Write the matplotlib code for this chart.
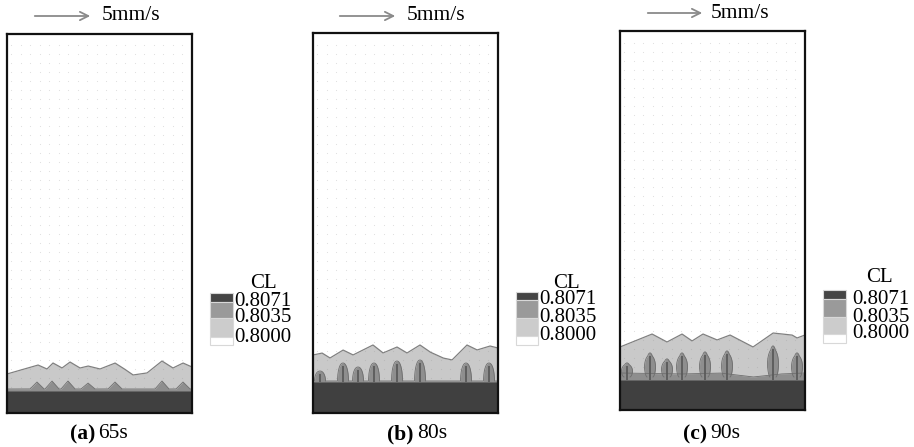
import numpy as np
import matplotlib
matplotlib.use("Agg")
import matplotlib.pyplot as plt
from matplotlib.patches import Rectangle, FancyArrowPatch

W, H = 914, 447
SERIF = ["Liberation Serif", "DejaVu Serif"]

# ---- data (domain units: x across the cell, y height above the bottom) ----
panel_labels = ["(a)", "(b)", "(c)"]
panel_times = ["65s", "80s", "90s"]
legend_levels = ["0.8071", "0.8035", "0.8000"]

# (a) 65 s
a_light_x = [0, 31, 40, 46, 55, 63, 73, 81, 93, 108, 116, 126, 140, 155, 166, 176, 185]
a_light_h = [39, 48, 44, 50, 45, 51, 45, 47, 44, 50, 45, 38, 40, 52, 45, 50, 46]
a_dark_h = 22
a_med_base_x = [0, 185]
a_med_base_h = [24, 24]
a_tip_x = [30, 45, 61, 81, 108, 155, 176]
a_tip_h = [31, 32, 32, 30, 31, 32, 31]

# (b) 80 s
b_light_x = [0, 9, 17, 30, 40, 60, 70, 84, 94, 107, 117, 130, 139, 154, 164, 177, 185]
b_light_h = [58, 60, 55, 63, 58, 68, 60, 66, 60, 68, 61, 55, 53, 68, 63, 67, 65]
b_dark_h = 31
b_med_base_x = [0, 185]
b_med_base_h = [32, 32]
b_tip_x = [7, 30, 45, 61, 84, 107, 153, 176]
b_tip_h = [42, 50, 46, 50, 52, 53, 50, 50]

# (c) 90 s
c_light_x = [0, 32, 47, 62, 72, 83, 97, 110, 133, 153, 172, 177, 185]
c_light_h = [63, 76, 68, 76, 69, 76, 70, 75, 63, 77, 75, 72, 75]
c_dark_h = 30
c_med_base_x = [0, 60, 100, 133, 160, 185]
c_med_base_h = [37, 36, 37, 33, 36, 37]
c_tip_x = [7, 30, 47, 62, 85, 107, 153, 177]
c_tip_h = [47, 57, 51, 57, 58, 59, 64, 57]

# ---- layout (pixels) ----
boxes = [(7, 192, 34, 413), (313, 498, 33, 413), (620, 805, 31, 410)]
arrows = [(32, 93, 16), (337, 398, 16), (645, 705, 13)]
arrow_text_x = [102, 407, 711]
caption_cx = [95, 414, 707]
leg_x = [(210, 233), (516, 538), (823, 846)]
leg_edges = [(293, 302, 318, 337, 345), (292, 300, 318, 336, 345), (290, 299, 317, 334, 343)]
leg_text_x = [234, 539, 852]
leg_cl_c = [(263, 284), (566, 284), (879, 278)]

DARK = "#404040"
MED = "#8e8e8e"
LIGHT = "#c9c9c9"
LEG_COLORS = ["#454545", "#9a9a9a", "#cccccc", "#ffffff"]

panels = [
    (a_light_x, a_light_h, a_dark_h, a_med_base_x, a_med_base_h, a_tip_x, a_tip_h, "tri", 7),
    (b_light_x, b_light_h, b_dark_h, b_med_base_x, b_med_base_h, b_tip_x, b_tip_h, "dome", 5.5),
    (c_light_x, c_light_h, c_dark_h, c_med_base_x, c_med_base_h, c_tip_x, c_tip_h, "bulb", 5.5),
]

fig = plt.figure(figsize=(W / 100, H / 100), dpi=100)


def fx(p):
    return p / W


def fy(p):
    return 1 - p / H


for i, (lx, lh, dh, mbx, mbh, tx, th, shape, hw) in enumerate(panels):
    l, r, t, b = boxes[i]
    ax = fig.add_axes([fx(l), fy(b), (r - l) / W, (b - t) / H])
    wid, hei = r - l, b - t
    ax.set_xlim(0, wid)
    ax.set_ylim(0, hei)
    xs = np.linspace(0, wid, 1500)
    light = np.interp(xs, lx, lh)
    med = np.interp(xs, mbx, mbh).astype(float)
    base = med.copy()
    # finger outlines: the medium layer is the upper envelope of all tips
    ys_grid = np.linspace(0, hei, 800)
    for c, top in zip(tx, th):
        d = np.abs(xs - c) / hw
        inside = d < 1
        if shape == "tri":
            prof = base + (top - base) * (1 - d)
        else:
            prof = base + (top - base) * np.sqrt(np.clip(1 - d ** 2.2, 0, 1))
        med = np.where(inside, np.maximum(med, prof), med)
    ax.fill_between(xs, 0, light, color=LIGHT, lw=0)
    ax.plot(xs, light, color="#808080", lw=0.9)
    if shape == "bulb":
        # bulbous fingers: wider body, narrower neck near the base
        for c, top in zip(tx, th):
            ys = np.linspace(mbh[0] - 4, top, 80)
            s = (ys - ys[0]) / (top - ys[0])
            half = hw * (0.55 + 0.45 * np.sin(np.pi * np.clip(s * 1.15, 0, 1)) ** 0.6) * np.sqrt(np.clip(1 - s ** 6, 0, 1))
            ax.fill_betweenx(ys, c - half, c + half, color=MED, lw=0)
            ax.plot(c - half, ys, color="#6e6e6e", lw=0.6)
            ax.plot(c + half, ys, color="#6e6e6e", lw=0.6)
        ax.fill_between(xs, 0, base, color=MED, lw=0)
        ax.plot(xs, base, color="#6e6e6e", lw=0.6)
    else:
        ax.fill_between(xs, 0, med, color=MED, lw=0)
        ax.plot(xs, med, color="#6e6e6e", lw=0.6)
    ax.fill_between(xs, 0, dh, color=DARK, lw=0)
    if shape != "tri":
        ax.vlines(tx, dh, np.array(th) - 3, color="#5a5a5a", lw=1.3)
    # faint velocity-vector grid
    gx, gy = np.meshgrid(np.arange(4, wid, 9.5), np.arange(dh + 4, hei - 6, 9))
    ax.scatter(gx.ravel(), gy.ravel(), s=0.6, color="#909090", alpha=0.3, lw=0)
    ax.set_xticks([])
    ax.set_yticks([])
    for sp in ax.spines.values():
        sp.set_linewidth(1.6)
        sp.set_color("#111111")

    # reference vector
    x0, x1, yy = arrows[i]
    fig.add_artist(FancyArrowPatch(
        (fx(x0), fy(yy)), (fx(x1), fy(yy)), transform=fig.transFigure,
        arrowstyle="->,head_length=6,head_width=3", color="#8a8a8a", lw=1.3))
    fig.text(fx(arrow_text_x[i]), fy(yy), "5mm/s", family=SERIF, fontsize=15.5,
             ha="left", va="center")

    # caption
    fig.text(fx(caption_cx[i]), fy(434), panel_labels[i], family=SERIF, fontsize=15.5,
             fontweight="bold", ha="right", va="center")
    fig.text(fx(caption_cx[i] + 3), fy(434), panel_times[i], family=SERIF, fontsize=15.5,
             ha="left", va="center")

    # legend
    lx0, lx1 = leg_x[i]
    edges = leg_edges[i]
    for k in range(4):
        fig.add_artist(Rectangle((fx(lx0), fy(edges[k + 1])), (lx1 - lx0) / W,
                                 (edges[k + 1] - edges[k]) / H, transform=fig.transFigure,
                                 facecolor=LEG_COLORS[k], edgecolor="#d8d8d8", lw=0.8))
    for k in range(3):
        fig.text(fx(leg_text_x[i]), fy(edges[k + 1]), legend_levels[k], family=SERIF,
                 fontsize=15, ha="left", va="center")
    cx, cy = leg_cl_c[i]
    fig.text(fx(cx), fy(cy), "CL", family=SERIF, fontsize=15, ha="center", va="center")

fig.savefig("out.png", dpi=100)
